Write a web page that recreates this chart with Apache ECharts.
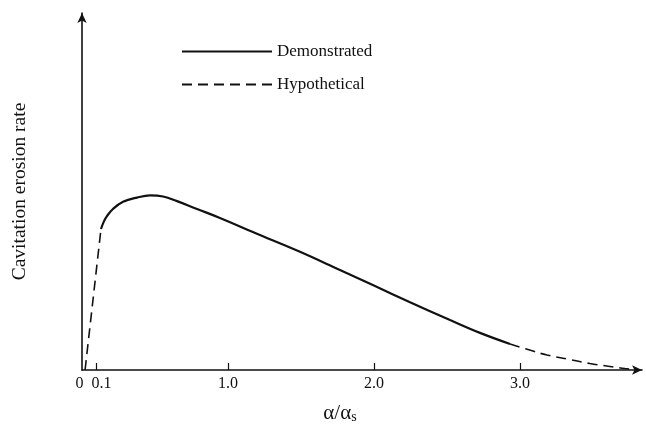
<!DOCTYPE html>
<html>
<head>
<meta charset="utf-8">
<script src="https://cdn.jsdelivr.net/npm/echarts@6/dist/echarts.min.js"></script>
<style>
  html, body { margin: 0; padding: 0; background: #fff; }
  #chart { width: 646px; height: 430px; }
</style>
</head>
<body>
<div id="chart"></div>
<script>
// x = alpha / alpha_s, y = erosion rate (arbitrary units)
const demonstratedX = [0.13, 0.151, 0.171, 0.212, 0.281, 0.377, 0.466, 0.555, 0.651, 0.788, 0.945, 1.219, 1.493, 1.767, 2.007, 2.247, 2.521, 2.726, 2.932];
const demonstratedY = [39.5, 41.7, 43.1, 45.1, 47.1, 48.3, 48.9, 48.6, 47.3, 45.1, 42.6, 37.8, 33.1, 28.0, 23.5, 19.0, 14.0, 10.4, 7.3];

const riseX = [0.021, 0.13];
const riseY = [0, 39.5];

const tailX = [2.932, 3.089, 3.185, 3.322, 3.479, 3.616, 3.719, 3.822];
const tailY = [7.3, 5.3, 4.2, 3.1, 1.8, 1.0, 0.4, 0];

const tickValues = [0.1, 1, 2, 3];
const labelValues = [0, 0.1, 1, 2, 3];

const zip = (xs, ys) => xs.map((x, i) => [x, ys[i]]);
const serif = '"Liberation Serif", "DejaVu Serif", serif';

const chart = echarts.init(document.getElementById('chart'), null, { renderer: 'canvas' });

const dashed = { color: '#111', width: 1.6, type: [10, 6] };

const option = {
  animation: false,
  backgroundColor: '#fff',
  grid: { left: 82, right: 4, top: 13, bottom: 60 },
  legend: {
    orient: 'vertical',
    left: 176,
    top: 38,
    itemWidth: 90,
    itemHeight: 10,
    itemGap: 16,
    data: ['Demonstrated', 'Hypothetical'],
    itemStyle: { opacity: 0, color: 'rgba(0,0,0,0)', borderWidth: 0 },
    textStyle: { fontFamily: serif, fontSize: 17, color: '#111' }
  },
  xAxis: {
    type: 'value',
    min: 0,
    max: 3.836,
    name: '{a|α/α}{s|s}',
    nameLocation: 'middle',
    nameGap: 32,
    nameTextStyle: {
      padding: [0, 44, 0, 0],
      rich: {
        a: { fontFamily: serif, fontSize: 21, color: '#111' },
        s: { fontFamily: serif, fontSize: 14, color: '#111', verticalAlign: 'bottom', padding: [8, 0, 0, 0] }
      }
    },
    axisLine: { lineStyle: { color: '#111', width: 1.6 }, symbol: ['none', 'arrow'], symbolSize: [7, 10] },
    axisTick: { show: true, inside: true, length: 7, customValues: tickValues, lineStyle: { color: '#111', width: 1.2 } },
    axisLabel: {
      customValues: labelValues,
      margin: 6,
      fontFamily: serif,
      fontSize: 16,
      color: '#111',
      formatter: (v) => (v === 0 ? '{z|0}' : v === 0.1 ? '{o|0.1}' : v.toFixed(1)),
      rich: {
        z: { fontFamily: serif, fontSize: 16, color: '#111', padding: [0, 5, 0, 0] },
        o: { fontFamily: serif, fontSize: 16, color: '#111', padding: [0, 0, 0, 10] }
      }
    },
    splitLine: { show: false }
  },
  yAxis: {
    type: 'value',
    min: 0,
    max: 100,
    name: 'Cavitation erosion rate',
    nameLocation: 'middle',
    nameGap: 52,
    nameTextStyle: { fontFamily: serif, fontSize: 19.5, color: '#111' },
    axisLine: { show: true, lineStyle: { color: '#111', width: 1.6 }, symbol: ['none', 'arrow'], symbolSize: [7, 10] },
    axisTick: { show: false },
    axisLabel: { show: false },
    splitLine: { show: false }
  },
  series: [
    {
      name: 'Demonstrated',
      type: 'line',
      data: zip(demonstratedX, demonstratedY),
      smooth: 0.4,
      showSymbol: false,
      symbol: 'none',
      lineStyle: { color: '#111', width: 2.2 },
      itemStyle: { color: '#111' }
    },
    {
      name: 'Hypothetical',
      type: 'line',
      data: zip(riseX, riseY),
      showSymbol: false,
      symbol: 'none',
      lineStyle: dashed,
      itemStyle: { color: '#111' }
    },
    {
      name: 'Hypothetical',
      type: 'line',
      data: zip(tailX, tailY),
      smooth: 0.4,
      showSymbol: false,
      symbol: 'none',
      lineStyle: dashed,
      itemStyle: { color: '#111' }
    }
  ]
};

chart.setOption(option);
</script>
</body>
</html>
